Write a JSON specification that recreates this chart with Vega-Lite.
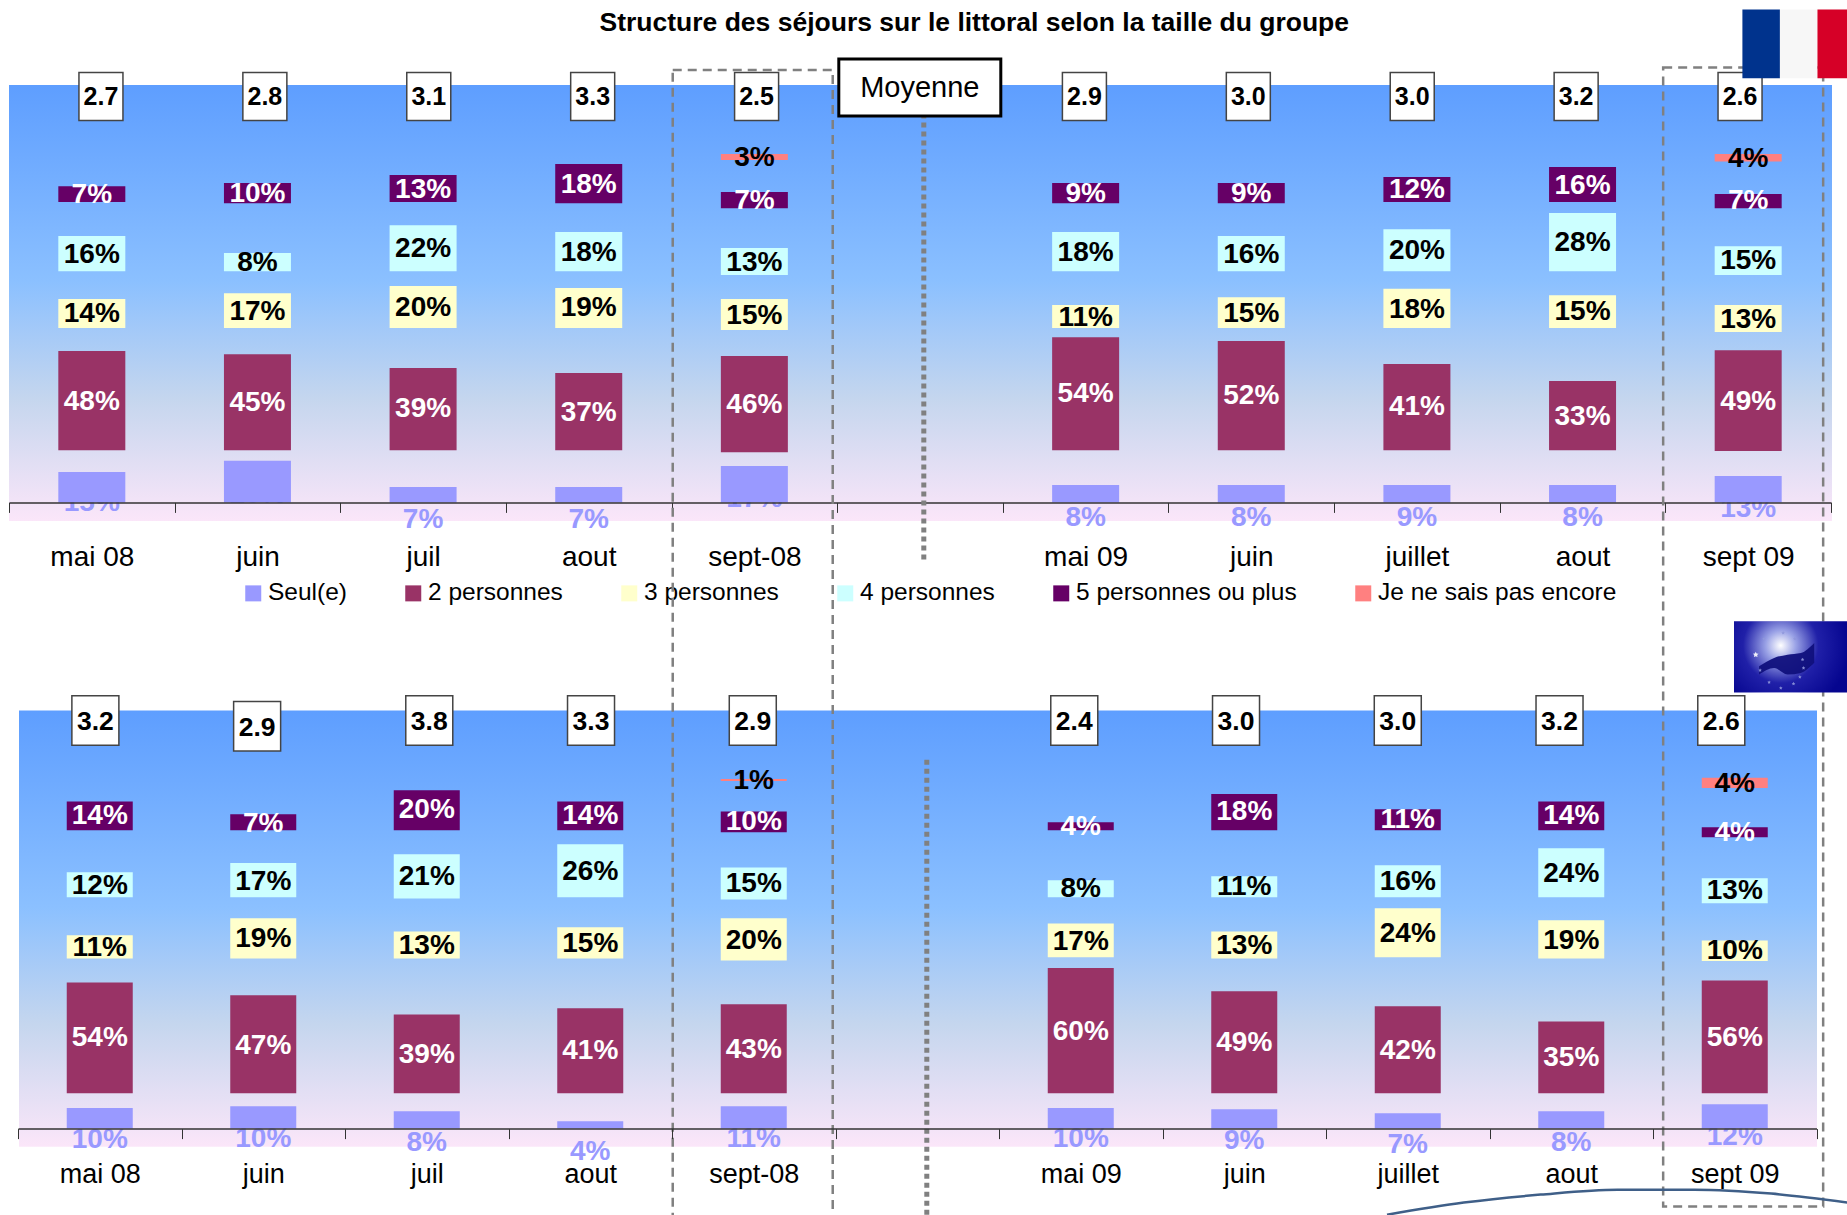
{
"$schema":"https://vega.github.io/schema/vega-lite/v6.json",
"background":"#ffffff",
"padding":{"left":8,"top":9,"right":0,"bottom":0},
"config":{"view":{"stroke":null},"font":"Liberation Sans","text":{"font":"Liberation Sans"}},
"title":{"text":"Structure des séjours sur le littoral selon la taille du groupe","font":"Liberation Sans","fontSize":26.5,"fontWeight":"bold","color":"#000000","anchor":"start","frame":"group","dx":590.5,"offset":-27},
"datasets":{
"france":[
{"periode":"mai 08","groupe":"Seul(e)","bas":0,"haut":14.5,"pos":0.2,"etiquette":"15%"},
{"periode":"mai 08","groupe":"2 personnes","bas":24.85,"haut":72.1,"pos":48.6,"etiquette":"48%"},
{"periode":"mai 08","groupe":"3 personnes","bas":83.0,"haut":96.8,"pos":90.6,"etiquette":"14%"},
{"periode":"mai 08","groupe":"4 personnes","bas":110.1,"haut":126.9,"pos":118.6,"etiquette":"16%"},
{"periode":"mai 08","groupe":"5 personnes ou plus","bas":143.1,"haut":150.6,"pos":147.1,"etiquette":"7%"},
{"periode":"juin 08","groupe":"Seul(e)","bas":0,"haut":19.8,"pos":4.3,"etiquette":"20%"},
{"periode":"juin 08","groupe":"2 personnes","bas":24.85,"haut":70.6,"pos":48.0,"etiquette":"45%"},
{"periode":"juin 08","groupe":"3 personnes","bas":83.0,"haut":99.6,"pos":91.5,"etiquette":"17%"},
{"periode":"juin 08","groupe":"4 personnes","bas":110.1,"haut":118.8,"pos":114.9,"etiquette":"8%"},
{"periode":"juin 08","groupe":"5 personnes ou plus","bas":142.5,"haut":152.1,"pos":147.6,"etiquette":"10%"},
{"periode":"juil 08","groupe":"Seul(e)","bas":0,"haut":7.3,"pos":-7.7,"etiquette":"7%"},
{"periode":"juil 08","groupe":"2 personnes","bas":24.85,"haut":64.0,"pos":45.4,"etiquette":"39%"},
{"periode":"juil 08","groupe":"3 personnes","bas":83.0,"haut":103.0,"pos":93.2,"etiquette":"20%"},
{"periode":"juil 08","groupe":"4 personnes","bas":110.1,"haut":132.0,"pos":121.4,"etiquette":"22%"},
{"periode":"juil 08","groupe":"5 personnes ou plus","bas":143.1,"haut":155.9,"pos":149.7,"etiquette":"13%"},
{"periode":"aout 08","groupe":"Seul(e)","bas":0,"haut":7.3,"pos":-7.7,"etiquette":"7%"},
{"periode":"aout 08","groupe":"2 personnes","bas":24.85,"haut":61.6,"pos":43.5,"etiquette":"37%"},
{"periode":"aout 08","groupe":"3 personnes","bas":83.0,"haut":102.1,"pos":93.2,"etiquette":"19%"},
{"periode":"aout 08","groupe":"4 personnes","bas":110.1,"haut":128.8,"pos":119.6,"etiquette":"18%"},
{"periode":"aout 08","groupe":"5 personnes ou plus","bas":142.5,"haut":161.2,"pos":151.9,"etiquette":"18%"},
{"periode":"sept-08","groupe":"Seul(e)","bas":0,"haut":17.3,"pos":2.4,"etiquette":"17%"},
{"periode":"sept-08","groupe":"2 personnes","bas":23.9,"haut":69.7,"pos":47.3,"etiquette":"46%"},
{"periode":"sept-08","groupe":"3 personnes","bas":82.1,"haut":96.8,"pos":89.6,"etiquette":"15%"},
{"periode":"sept-08","groupe":"4 personnes","bas":108.3,"haut":121.1,"pos":114.9,"etiquette":"13%"},
{"periode":"sept-08","groupe":"5 personnes ou plus","bas":140.1,"haut":147.8,"pos":144.2,"etiquette":"7%"},
{"periode":"sept-08","groupe":"Je ne sais pas encore","bas":163.1,"haut":165.9,"pos":164.8,"etiquette":"3%"},
{"periode":"mai 09","groupe":"Seul(e)","bas":0,"haut":8.3,"pos":-6.6,"etiquette":"8%"},
{"periode":"mai 09","groupe":"2 personnes","bas":24.85,"haut":78.7,"pos":52.3,"etiquette":"54%"},
{"periode":"mai 09","groupe":"3 personnes","bas":83.0,"haut":94.0,"pos":88.5,"etiquette":"11%"},
{"periode":"mai 09","groupe":"4 personnes","bas":110.1,"haut":128.8,"pos":119.6,"etiquette":"18%"},
{"periode":"mai 09","groupe":"5 personnes ou plus","bas":142.5,"haut":152.1,"pos":147.6,"etiquette":"9%"},
{"periode":"juin 09","groupe":"Seul(e)","bas":0,"haut":8.3,"pos":-6.6,"etiquette":"8%"},
{"periode":"juin 09","groupe":"2 personnes","bas":24.85,"haut":76.8,"pos":51.4,"etiquette":"52%"},
{"periode":"juin 09","groupe":"3 personnes","bas":83.0,"haut":97.7,"pos":90.6,"etiquette":"15%"},
{"periode":"juin 09","groupe":"4 personnes","bas":110.1,"haut":126.9,"pos":118.6,"etiquette":"16%"},
{"periode":"juin 09","groupe":"5 personnes ou plus","bas":142.5,"haut":152.1,"pos":147.6,"etiquette":"9%"},
{"periode":"juillet 09","groupe":"Seul(e)","bas":0,"haut":8.3,"pos":-6.6,"etiquette":"9%"},
{"periode":"juillet 09","groupe":"2 personnes","bas":24.85,"haut":65.9,"pos":46.3,"etiquette":"41%"},
{"periode":"juillet 09","groupe":"3 personnes","bas":83.0,"haut":101.7,"pos":92.4,"etiquette":"18%"},
{"periode":"juillet 09","groupe":"4 personnes","bas":110.1,"haut":130.1,"pos":120.5,"etiquette":"20%"},
{"periode":"juillet 09","groupe":"5 personnes ou plus","bas":143.1,"haut":155.0,"pos":149.7,"etiquette":"12%"},
{"periode":"aout 09","groupe":"Seul(e)","bas":0,"haut":8.3,"pos":-6.6,"etiquette":"8%"},
{"periode":"aout 09","groupe":"2 personnes","bas":24.85,"haut":57.8,"pos":41.4,"etiquette":"33%"},
{"periode":"aout 09","groupe":"3 personnes","bas":83.0,"haut":98.7,"pos":91.5,"etiquette":"15%"},
{"periode":"aout 09","groupe":"4 personnes","bas":110.1,"haut":137.8,"pos":124.1,"etiquette":"28%"},
{"periode":"aout 09","groupe":"5 personnes ou plus","bas":143.1,"haut":159.7,"pos":151.6,"etiquette":"16%"},
{"periode":"sept 09","groupe":"Seul(e)","bas":0,"haut":12.6,"pos":-2.3,"etiquette":"13%"},
{"periode":"sept 09","groupe":"2 personnes","bas":24.5,"haut":72.5,"pos":48.6,"etiquette":"49%"},
{"periode":"sept 09","groupe":"3 personnes","bas":81.2,"haut":94.0,"pos":87.7,"etiquette":"13%"},
{"periode":"sept 09","groupe":"4 personnes","bas":108.3,"haut":122.0,"pos":115.8,"etiquette":"15%"},
{"periode":"sept 09","groupe":"5 personnes ou plus","bas":140.1,"haut":146.9,"pos":144.2,"etiquette":"7%"},
{"periode":"sept 09","groupe":"Je ne sais pas encore","bas":162.3,"haut":165.9,"pos":164.0,"etiquette":"4%"}
],
"europe":[
{"periode":"mai 08","groupe":"Seul(e)","bas":0,"haut":10.0,"pos":-4.9,"etiquette":"10%"},
{"periode":"mai 08","groupe":"2 personnes","bas":17.3,"haut":71.3,"pos":44.8,"etiquette":"54%"},
{"periode":"mai 08","groupe":"3 personnes","bas":83.0,"haut":94.3,"pos":89.0,"etiquette":"11%"},
{"periode":"mai 08","groupe":"4 personnes","bas":112.9,"haut":125.0,"pos":119.3,"etiquette":"12%"},
{"periode":"mai 08","groupe":"5 personnes ou plus","bas":145.5,"haut":159.6,"pos":153.4,"etiquette":"14%"},
{"periode":"juin 08","groupe":"Seul(e)","bas":0,"haut":10.9,"pos":-4.5,"etiquette":"10%"},
{"periode":"juin 08","groupe":"2 personnes","bas":17.3,"haut":65.1,"pos":41.2,"etiquette":"47%"},
{"periode":"juin 08","groupe":"3 personnes","bas":83.0,"haut":102.6,"pos":93.3,"etiquette":"19%"},
{"periode":"juin 08","groupe":"4 personnes","bas":112.9,"haut":129.5,"pos":121.2,"etiquette":"17%"},
{"periode":"juin 08","groupe":"5 personnes ou plus","bas":145.5,"haut":153.4,"pos":149.4,"etiquette":"7%"},
{"periode":"juil 08","groupe":"Seul(e)","bas":0,"haut":8.5,"pos":-6.4,"etiquette":"8%"},
{"periode":"juil 08","groupe":"2 personnes","bas":17.3,"haut":55.7,"pos":36.5,"etiquette":"39%"},
{"periode":"juil 08","groupe":"3 personnes","bas":83.0,"haut":96.2,"pos":89.8,"etiquette":"13%"},
{"periode":"juil 08","groupe":"4 personnes","bas":112.3,"haut":133.8,"pos":123.4,"etiquette":"21%"},
{"periode":"juil 08","groupe":"5 personnes ou plus","bas":145.5,"haut":165.0,"pos":156.0,"etiquette":"20%"},
{"periode":"aout 08","groupe":"Seul(e)","bas":0,"haut":3.6,"pos":-10.7,"etiquette":"4%"},
{"periode":"aout 08","groupe":"2 personnes","bas":17.3,"haut":58.7,"pos":38.4,"etiquette":"41%"},
{"periode":"aout 08","groupe":"3 personnes","bas":83.0,"haut":98.2,"pos":90.7,"etiquette":"15%"},
{"periode":"aout 08","groupe":"4 personnes","bas":112.9,"haut":138.7,"pos":125.7,"etiquette":"26%"},
{"periode":"aout 08","groupe":"5 personnes ou plus","bas":145.5,"haut":159.6,"pos":153.4,"etiquette":"14%"},
{"periode":"sept-08","groupe":"Seul(e)","bas":0,"haut":10.9,"pos":-4.1,"etiquette":"11%"},
{"periode":"sept-08","groupe":"2 personnes","bas":17.3,"haut":60.6,"pos":39.3,"etiquette":"43%"},
{"periode":"sept-08","groupe":"3 personnes","bas":82.0,"haut":102.6,"pos":92.4,"etiquette":"20%"},
{"periode":"sept-08","groupe":"4 personnes","bas":111.8,"haut":127.4,"pos":119.9,"etiquette":"15%"},
{"periode":"sept-08","groupe":"5 personnes ou plus","bas":144.5,"haut":154.7,"pos":150.4,"etiquette":"10%"},
{"periode":"sept-08","groupe":"Je ne sais pas encore","bas":169.6,"haut":170.5,"pos":170.5,"etiquette":"1%"},
{"periode":"mai 09","groupe":"Seul(e)","bas":0,"haut":10.0,"pos":-4.5,"etiquette":"10%"},
{"periode":"mai 09","groupe":"2 personnes","bas":17.3,"haut":78.3,"pos":47.8,"etiquette":"60%"},
{"periode":"mai 09","groupe":"3 personnes","bas":83.6,"haut":100.1,"pos":91.8,"etiquette":"17%"},
{"periode":"mai 09","groupe":"4 personnes","bas":112.9,"haut":121.2,"pos":117.4,"etiquette":"8%"},
{"periode":"mai 09","groupe":"5 personnes ou plus","bas":145.5,"haut":149.4,"pos":147.9,"etiquette":"4%"},
{"periode":"juin 09","groupe":"Seul(e)","bas":0,"haut":9.4,"pos":-5.5,"etiquette":"9%"},
{"periode":"juin 09","groupe":"2 personnes","bas":17.3,"haut":67.0,"pos":42.5,"etiquette":"49%"},
{"periode":"juin 09","groupe":"3 personnes","bas":83.0,"haut":96.2,"pos":89.8,"etiquette":"13%"},
{"periode":"juin 09","groupe":"4 personnes","bas":112.9,"haut":123.1,"pos":118.4,"etiquette":"11%"},
{"periode":"juin 09","groupe":"5 personnes ou plus","bas":145.5,"haut":163.2,"pos":155.1,"etiquette":"18%"},
{"periode":"juillet 09","groupe":"Seul(e)","bas":0,"haut":7.5,"pos":-7.3,"etiquette":"7%"},
{"periode":"juillet 09","groupe":"2 personnes","bas":17.3,"haut":59.7,"pos":38.8,"etiquette":"42%"},
{"periode":"juillet 09","groupe":"3 personnes","bas":83.6,"haut":107.5,"pos":95.6,"etiquette":"24%"},
{"periode":"juillet 09","groupe":"4 personnes","bas":112.9,"haut":128.5,"pos":121.0,"etiquette":"16%"},
{"periode":"juillet 09","groupe":"5 personnes ou plus","bas":145.5,"haut":155.8,"pos":151.1,"etiquette":"11%"},
{"periode":"aout 09","groupe":"Seul(e)","bas":0,"haut":8.5,"pos":-6.4,"etiquette":"8%"},
{"periode":"aout 09","groupe":"2 personnes","bas":17.3,"haut":52.3,"pos":35.0,"etiquette":"35%"},
{"periode":"aout 09","groupe":"3 personnes","bas":83.0,"haut":101.6,"pos":92.4,"etiquette":"19%"},
{"periode":"aout 09","groupe":"4 personnes","bas":112.9,"haut":136.8,"pos":125.0,"etiquette":"24%"},
{"periode":"aout 09","groupe":"5 personnes ou plus","bas":145.5,"haut":159.6,"pos":153.4,"etiquette":"14%"},
{"periode":"sept 09","groupe":"Seul(e)","bas":0,"haut":11.9,"pos":-3.6,"etiquette":"12%"},
{"periode":"sept 09","groupe":"2 personnes","bas":17.3,"haut":72.3,"pos":44.8,"etiquette":"56%"},
{"periode":"sept 09","groupe":"3 personnes","bas":81.7,"haut":91.8,"pos":87.3,"etiquette":"10%"},
{"periode":"sept 09","groupe":"4 personnes","bas":109.9,"haut":122.1,"pos":116.5,"etiquette":"13%"},
{"periode":"sept 09","groupe":"5 personnes ou plus","bas":142.1,"haut":147.0,"pos":145.1,"etiquette":"4%"},
{"periode":"sept 09","groupe":"Je ne sais pas encore","bas":166.2,"haut":171.1,"pos":169.0,"etiquette":"4%"}
],
"moyFrance":[
{"periode":"mai 08","moyenne":2.7,"bas":181.9,"haut":204.7,"pos":193.3},
{"periode":"juin 08","moyenne":2.8,"bas":181.9,"haut":204.7,"pos":193.3},
{"periode":"juil 08","moyenne":3.1,"bas":181.9,"haut":204.7,"pos":193.3},
{"periode":"aout 08","moyenne":3.3,"bas":181.9,"haut":204.7,"pos":193.3},
{"periode":"sept-08","moyenne":2.5,"bas":181.9,"haut":204.7,"pos":193.3},
{"periode":"mai 09","moyenne":2.9,"bas":181.9,"haut":204.7,"pos":193.3},
{"periode":"juin 09","moyenne":3.0,"bas":181.9,"haut":204.7,"pos":193.3},
{"periode":"juillet 09","moyenne":3.0,"bas":181.9,"haut":204.7,"pos":193.3},
{"periode":"aout 09","moyenne":3.2,"bas":181.9,"haut":204.7,"pos":193.3},
{"periode":"sept 09","moyenne":2.6,"bas":181.9,"haut":204.7,"pos":193.3}
],
"moyEurope":[
{"periode":"mai 08","lot":"a","moyenne":3.2,"bas":187,"haut":211.1,"pos":199},
{"periode":"juin 08","lot":"a","moyenne":2.9,"bas":184.2,"haut":208.3,"pos":196},
{"periode":"juil 08","lot":"b","moyenne":3.8,"bas":187,"haut":211.1,"pos":199},
{"periode":"aout 08","lot":"b","moyenne":3.3,"bas":187,"haut":211.1,"pos":199},
{"periode":"sept-08","lot":"b","moyenne":2.9,"bas":187,"haut":211.1,"pos":199},
{"periode":"mai 09","lot":"c","moyenne":2.4,"bas":187,"haut":211.1,"pos":199},
{"periode":"juin 09","lot":"c","moyenne":3.0,"bas":187,"haut":211.1,"pos":199},
{"periode":"juillet 09","lot":"c","moyenne":3.0,"bas":187,"haut":211.1,"pos":199},
{"periode":"aout 09","lot":"c","moyenne":3.2,"bas":187,"haut":211.1,"pos":199},
{"periode":"sept 09","lot":"c","moyenne":2.6,"bas":187,"haut":211.1,"pos":199}
]
},
"bounds":"flush",
"spacing":207.6,
"resolve":{"scale":{"color":"independent"},"legend":{"color":"independent"}},
"vconcat":[
{
"width":1822,"height":417.4,
"resolve":{"scale":{"x":"independent"}},
"layer":[
{"data":{"values":[{"cle":"fond","bas":-8.9,"haut":198.76}]},
 "mark":{"type":"rect","color":{"gradient":"linear","x1":0,"y1":0,"x2":0,"y2":1,"stops":[{"offset":0,"color":"#5e9eff"},{"offset":0.45,"color":"#8bc0ff"},{"offset":0.72,"color":"#c5d6ee"},{"offset":1,"color":"#fbe6f9"}]}},
 "encoding":{"x":{"field":"cle","type":"nominal","axis":null,"scale":{"domain":["fond"],"range":[0,1823],"paddingInner":0,"paddingOuter":0}},
  "y":{"field":"bas","type":"quantitative","axis":null,"scale":{"domain":[0,198.76],"nice":false,"zero":false}},"y2":{"field":"haut"}}},
{"data":{"name":"france"},
 "encoding":{"x":{"field":"periode","type":"nominal","sort":null,
   "scale":{"domain":["mai 08","juin 08","juil 08","aout 08","sept-08","vide","mai 09","juin 09","juillet 09","aout 09","sept 09"],"range":[0,1822],"paddingInner":0,"paddingOuter":0},
   "axis":{"title":null,"orient":"bottom","zindex":1,"labelAngle":0,"tickBand":"extent","tickSize":10,"tickColor":"#333333","domainColor":"#333333","domainWidth":1.5,"grid":false,"labelFont":"Liberation Sans","labelFontSize":28,"labelColor":"#000000","labelPadding":31,"labelOverlap":false,"labelBound":false,
    "labelExpr":"(!isValid(datum.value)||datum.value=='vide')?'':(test(/^(mai|sept)/,datum.value)?datum.value:split(datum.value,' ')[0])"}}},
 "layer":[
 {"transform":[{"filter":"datum.groupe=='Seul(e)'"}],
  "mark":{"type":"text","font":"Liberation Sans","fontWeight":"bold","fontSize":28,"baseline":"middle","dy":1.5,"color":"#9999ff"},
  "encoding":{"y":{"field":"pos","type":"quantitative","axis":null},"text":{"field":"etiquette"}}},
 {"mark":{"type":"bar","width":67},
  "encoding":{"y":{"field":"bas","type":"quantitative","axis":null,"stack":null},"y2":{"field":"haut"},
   "color":{"field":"groupe","type":"nominal","sort":null,
    "scale":{"domain":["Seul(e)","2 personnes","3 personnes","4 personnes","5 personnes ou plus","Je ne sais pas encore"],"range":["#9999ff","#993366","#ffffcc","#ccffff","#660066","#ff8080"]},
    "legend":{"title":null,"orient":"none","legendX":232,"legendY":496,"direction":"horizontal","columns":6,"columnPadding":54,"symbolType":"square","symbolSize":256,"symbolStrokeWidth":0,"labelFont":"Liberation Sans","labelFontSize":24.5,"labelColor":"#000000","labelOffset":2.5,"labelLimit":400}}}},
 {"transform":[{"filter":"datum.groupe!='Seul(e)'"}],
  "mark":{"type":"text","font":"Liberation Sans","fontWeight":"bold","fontSize":28,"baseline":"middle","dy":1.5},
  "encoding":{"y":{"field":"pos","type":"quantitative","axis":null},"text":{"field":"etiquette"},
   "color":{"condition":{"test":"datum.groupe=='2 personnes'||datum.groupe=='5 personnes ou plus'","value":"#ffffff"},"value":"#000000"}}}
 ]},
{"data":{"name":"moyFrance"},
 "encoding":{"x":{"field":"periode","type":"nominal","axis":null,"sort":null,
   "scale":{"domain":["mai 08","juin 08","juil 08","aout 08","sept-08","vide","mai 09","juin 09","juillet 09","aout 09","sept 09"],"range":[10,1813],"paddingInner":0,"paddingOuter":0}}},
 "layer":[
 {"mark":{"type":"rect","width":44,"fill":"#ffffff","stroke":"#444444","strokeWidth":1.5},
  "encoding":{"y":{"field":"bas","type":"quantitative","axis":null},"y2":{"field":"haut"}}},
 {"mark":{"type":"text","font":"Liberation Sans","fontWeight":"bold","fontSize":25,"baseline":"middle","dy":1,"color":"#000000"},
  "encoding":{"y":{"field":"pos","type":"quantitative","axis":null},"text":{"field":"moyenne","type":"quantitative","format":".1f"}}}
 ]}
]},
{
"width":1822,"height":418,
"resolve":{"scale":{"x":"independent"}},
"layer":[
{"data":{"values":[{"cle":"fond","bas":-8.8,"haut":203.9}]},
 "mark":{"type":"rect","color":{"gradient":"linear","x1":0,"y1":0,"x2":0,"y2":1,"stops":[{"offset":0,"color":"#5e9eff"},{"offset":0.45,"color":"#8bc0ff"},{"offset":0.72,"color":"#c5d6ee"},{"offset":1,"color":"#fbe6f9"}]}},
 "encoding":{"x":{"field":"cle","type":"nominal","axis":null,"scale":{"domain":["fond"],"range":[10,1808],"paddingInner":0,"paddingOuter":0}},
  "y":{"field":"bas","type":"quantitative","axis":null,"scale":{"domain":[0,203.9],"nice":false,"zero":false}},"y2":{"field":"haut"}}},
{"data":{"name":"europe"},
 "encoding":{"x":{"field":"periode","type":"nominal","sort":null,
   "scale":{"domain":["mai 08","juin 08","juil 08","aout 08","sept-08","vide","mai 09","juin 09","juillet 09","aout 09","sept 09"],"range":[9,1807.5],"paddingInner":0,"paddingOuter":0},
   "axis":{"title":null,"orient":"bottom","zindex":1,"labelAngle":0,"tickBand":"extent","tickSize":10,"tickColor":"#333333","domainColor":"#333333","domainWidth":1.5,"grid":false,"labelFont":"Liberation Sans","labelFontSize":27,"labelColor":"#000000","labelPadding":23,"labelOverlap":false,"labelBound":false,
    "labelExpr":"(!isValid(datum.value)||datum.value=='vide')?'':(test(/^(mai|sept)/,datum.value)?datum.value:split(datum.value,' ')[0])"}}},
 "layer":[
 {"transform":[{"filter":"datum.groupe=='Seul(e)'"}],
  "mark":{"type":"text","font":"Liberation Sans","fontWeight":"bold","fontSize":28,"baseline":"middle","dy":1.5,"color":"#9999ff"},
  "encoding":{"y":{"field":"pos","type":"quantitative","axis":null},"text":{"field":"etiquette"}}},
 {"mark":{"type":"bar","width":66},
  "encoding":{"y":{"field":"bas","type":"quantitative","axis":null,"stack":null},"y2":{"field":"haut"},
   "color":{"field":"groupe","type":"nominal","sort":null,
    "scale":{"domain":["Seul(e)","2 personnes","3 personnes","4 personnes","5 personnes ou plus","Je ne sais pas encore"],"range":["#9999ff","#993366","#ffffcc","#ccffff","#660066","#ff8080"]},
    "legend":null}}},
 {"transform":[{"filter":"datum.groupe!='Seul(e)'"}],
  "mark":{"type":"text","font":"Liberation Sans","fontWeight":"bold","fontSize":28,"baseline":"middle","dy":1.5},
  "encoding":{"y":{"field":"pos","type":"quantitative","axis":null},"text":{"field":"etiquette"},
   "color":{"condition":{"test":"datum.groupe=='2 personnes'||datum.groupe=='5 personnes ou plus'","value":"#ffffff"},"value":"#000000"}}}
 ]},
{"data":{"name":"moyEurope"},
 "encoding":{"x":{"field":"periode","type":"nominal","axis":null,"sort":null,
   "scale":{"domain":["mai 08","juin 08","juil 08","aout 08","sept-08","vide","mai 09","juin 09","juillet 09","aout 09","sept 09"],"range":[13.9,1793.15],"paddingInner":0,"paddingOuter":0}}},
 "layer":[
 {"transform":[{"filter":"datum.lot=='a'"}],"mark":{"type":"rect","xOffset":-8.4,"width":47,"fill":"#ffffff","stroke":"#444444","strokeWidth":1.5},
  "encoding":{"y":{"field":"bas","type":"quantitative","axis":null},"y2":{"field":"haut"}}},
 {"transform":[{"filter":"datum.lot=='a'"}],"mark":{"type":"text","xOffset":-8.4,"font":"Liberation Sans","fontWeight":"bold","fontSize":26.5,"baseline":"middle","dy":1,"color":"#000000"},
  "encoding":{"y":{"field":"pos","type":"quantitative","axis":null},"text":{"field":"moyenne","type":"quantitative","format":".1f"}}},
 {"transform":[{"filter":"datum.lot=='b'"}],"mark":{"type":"rect","xOffset":2,"width":47,"fill":"#ffffff","stroke":"#444444","strokeWidth":1.5},
  "encoding":{"y":{"field":"bas","type":"quantitative","axis":null},"y2":{"field":"haut"}}},
 {"transform":[{"filter":"datum.lot=='b'"}],"mark":{"type":"text","xOffset":2,"font":"Liberation Sans","fontWeight":"bold","fontSize":26.5,"baseline":"middle","dy":1,"color":"#000000"},
  "encoding":{"y":{"field":"pos","type":"quantitative","axis":null},"text":{"field":"moyenne","type":"quantitative","format":".1f"}}},
 {"transform":[{"filter":"datum.lot=='c'"}],"mark":{"type":"rect","width":47,"fill":"#ffffff","stroke":"#444444","strokeWidth":1.5},
  "encoding":{"y":{"field":"bas","type":"quantitative","axis":null},"y2":{"field":"haut"}}},
 {"transform":[{"filter":"datum.lot=='c'"}],"mark":{"type":"text","font":"Liberation Sans","fontWeight":"bold","fontSize":26.5,"baseline":"middle","dy":1,"color":"#000000"},
  "encoding":{"y":{"field":"pos","type":"quantitative","axis":null},"text":{"field":"moyenne","type":"quantitative","format":".1f"}}}
 ]},
{"encoding":{"x":{"field":"periode","type":"nominal","axis":null,"sort":null,
   "scale":{"domain":["mai 08","juin 08","juil 08","aout 08","sept-08","vide","mai 09","juin 09","juillet 09","aout 09","sept 09"],"range":[0.9,1816.7],"paddingInner":0,"paddingOuter":0}}},
 "layer":[
 {"data":{"values":[{"periode":"sept-08","bas":-345,"haut":516.4},{"periode":"sept 09","bas":-38,"haut":517.6}]},
  "mark":{"type":"rect","width":160,"filled":false,"stroke":"#808080","strokeWidth":2.5,"strokeDash":[9,6]},
  "encoding":{"y":{"field":"bas","type":"quantitative","axis":null},"y2":{"field":"haut"}}},
 {"data":{"values":[{"periode":"vide","bas":277.6,"haut":493.7}]},
  "mark":{"type":"rule","stroke":"#808080","strokeWidth":5,"strokeDash":[5,4],"xOffset":6},
  "encoding":{"y":{"field":"bas","type":"quantitative","axis":null},"y2":{"field":"haut"}}},
 {"data":{"values":[{"periode":"vide","bas":-42,"haut":180}]},
  "mark":{"type":"rule","stroke":"#808080","strokeWidth":5,"strokeDash":[5,4],"xOffset":9},
  "encoding":{"y":{"field":"bas","type":"quantitative","axis":null},"y2":{"field":"haut"}}},
 {"data":{"values":[{"periode":"vide","bas":493.9,"haut":521.8}]},
  "mark":{"type":"rect","width":162,"xOffset":2,"fill":"#ffffff","stroke":"#000000","strokeWidth":3},
  "encoding":{"y":{"field":"bas","type":"quantitative","axis":null},"y2":{"field":"haut"}}},
 {"data":{"values":[{"periode":"vide","pos":507.9,"texte":"Moyenne"}]},
  "mark":{"type":"text","font":"Liberation Sans","fontSize":29,"baseline":"middle","xOffset":2,"dy":1,"color":"#000000"},
  "encoding":{"y":{"field":"pos","type":"quantitative","axis":null},"text":{"field":"texte"}}}
 ]},
{"data":{"values":[{"bande":"bleu","bas":512.3,"haut":545.9},{"bande":"blanc","bas":512.3,"haut":545.9},{"bande":"rouge","bas":512.3,"haut":545.9}]},
 "mark":{"type":"rect"},
 "encoding":{"x":{"field":"bande","type":"nominal","axis":null,"sort":null,"scale":{"domain":["bleu","blanc","rouge"],"range":[1733.4,1846],"paddingInner":0,"paddingOuter":0}},
  "y":{"field":"bas","type":"quantitative","axis":null},"y2":{"field":"haut"},
  "color":{"condition":[{"test":"datum.bande=='bleu'","value":"#00338d"},{"test":"datum.bande=='blanc'","value":"#f7f7f7"}],"value":"#d60027"}}},
{"data":{"values":[{"cle":"logo","bas":212.7,"haut":247.5}]},
 "mark":{"type":"rect","color":{"gradient":"radial","x1":0.41,"y1":0.4,"r1":0,"x2":0.41,"y2":0.4,"r2":0.6,"stops":[{"offset":0,"color":"#ffffff"},{"offset":0.22,"color":"#9aa2e6"},{"offset":0.55,"color":"#2020a8"},{"offset":1,"color":"#05058f"}]}},
 "encoding":{"x":{"field":"cle","type":"nominal","axis":null,"scale":{"domain":["logo"],"range":[1725,1839],"paddingInner":0,"paddingOuter":0}},
  "y":{"field":"bas","type":"quantitative","axis":null},"y2":{"field":"haut"}}},
{"resolve":{"scale":{"x":"shared"}},
 "encoding":{"x":{"field":"u","type":"quantitative","axis":null,"scale":{"domain":[0,341],"range":[1725,1839],"nice":false,"zero":false}}},
 "layer":[
 {"data":{"values":[{"u":75,"bas":221.5,"haut":225.5},{"u":120,"bas":224.7,"haut":229.6},{"u":160,"bas":221.5,"haut":231.2},{"u":200,"bas":222.3,"haut":232},{"u":240,"bas":227.2,"haut":236.9}]},
  "mark":{"type":"area","interpolate":"monotone","color":"#10107c","opacity":0.95},
  "encoding":{"y":{"field":"bas","type":"quantitative","axis":null},"y2":{"field":"haut"}}},
 {"data":{"values":[{"u":65,"pos":231.2},{"u":78,"pos":223.6},{"u":90,"pos":238.9},{"u":105,"pos":217.7},{"u":140,"pos":214.9},{"u":147,"pos":241.8},{"u":178,"pos":217.0},{"u":182,"pos":238.9},{"u":197,"pos":220.3},{"u":205,"pos":228.8},{"u":208,"pos":224.7}]},
  "mark":{"type":"point","filled":true,"opacity":0.9,"shape":"M0,-1L0.29,-0.4L0.95,-0.31L0.48,0.15L0.59,0.81L0,0.5L-0.59,0.81L-0.48,0.15L-0.95,-0.31L-0.29,-0.4Z"},
  "encoding":{"y":{"field":"pos","type":"quantitative","axis":null},
   "size":{"condition":{"test":"datum.u==65","value":36},"value":14},
   "color":{"condition":{"test":"datum.u==65","value":"#ffffff"},"value":"#8f97dc"}}}
 ]},
{"data":{"values":[{"t":"a","pos":-42},{"t":"b","pos":-36.1},{"t":"c","pos":-32.2},{"t":"d","pos":-29.8},{"t":"e","pos":-29.8},{"t":"f","pos":-31.7},{"t":"g","pos":-36.1}]},
 "mark":{"type":"line","interpolate":"monotone","stroke":"#3f5f88","strokeWidth":2.5},
 "encoding":{"x":{"field":"t","type":"ordinal","axis":null,"sort":null,"scale":{"type":"point","padding":0,"domain":["a","b","c","d","e","f","g"],"range":[1378,1839]}},
  "y":{"field":"pos","type":"quantitative","axis":null}}}
]}
]
}
